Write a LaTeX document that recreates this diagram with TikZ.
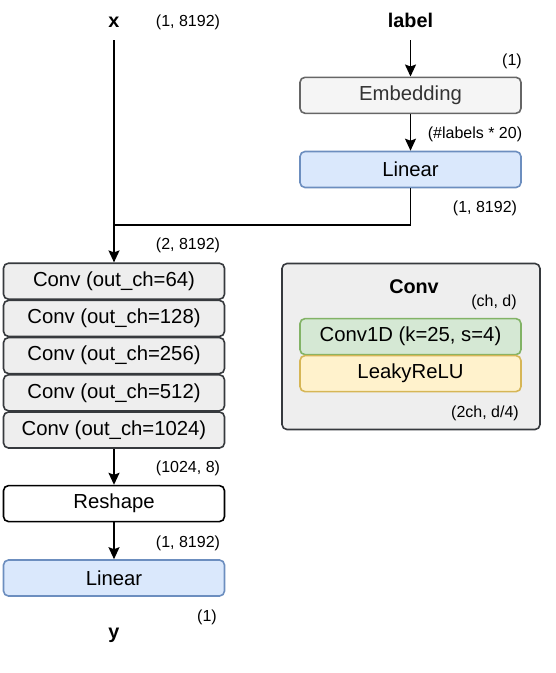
\documentclass[tikz,border=0pt]{standalone}
\usepackage{fontspec}
\setmainfont{Liberation Sans}
\usetikzlibrary{arrows.meta}
%Cores
\definecolor{cinzaborda}{HTML}{36393D}
\definecolor{cinzafundo}{HTML}{EEEEEE}
\definecolor{embfundo}{HTML}{F5F5F5}
\definecolor{embborda}{HTML}{666666}
\definecolor{embtexto}{HTML}{333333}
\definecolor{azulfundo}{HTML}{DAE8FC}
\definecolor{azulborda}{HTML}{6C8EBF}
\definecolor{verdefundo}{HTML}{D5E8D4}
\definecolor{verdeborda}{HTML}{82B366}
\definecolor{amarelofundo}{HTML}{FFF2CC}
\definecolor{amareloborda}{HTML}{D6B656}
%Estilos
\tikzset{
  caixa/.style={draw, rounded corners=5pt, line width=1.6pt, minimum width=221pt,
    minimum height=36pt, inner sep=0pt, font=\fontsize{20.3}{24}\selectfont},
  conv/.style={caixa, fill=cinzafundo, draw=cinzaborda},
  linear/.style={caixa, fill=azulfundo, draw=azulborda},
  forma/.style={font=\fontsize{16}{19}\selectfont, inner sep=1pt},
  titulo/.style={font=\fontsize{19.8}{23}\selectfont\bfseries, inner sep=2pt, anchor=base},
  seta/.style={-{Stealth[length=12pt,width=11pt,inset=2pt]}, line width=1.6pt},
  linha/.style={line width=1.6pt}
}
\begin{document}
\begin{tikzpicture}[x=1pt,y=-1pt] %Escala em pixels
	\useasboundingbox (0,0) rectangle (556,673);
		%Entradas
	\node[titulo] (x) at (114,27.3) {x};
	\node[forma] (fx) at (188,22) {(1, 8192)};
	\node[titulo] (label) at (410.5,27.3) {label};
	\node[forma] (f1) at (512,61) {(1)};
		%Ramo do rotulo
	\node[caixa, fill=embfundo, draw=embborda, text=embtexto] (emb) at (410.5,95.3) {Embedding};
	\node[forma] (femb) at (475,134) {(\#labels * 20)};
	\node[linear] (lin1) at (410.5,169.5) {Linear};
	\node[forma] (flin1) at (485,208) {(1, 8192)};
	\coordinate (junta) at (114,225);
	\node[forma] (fjunta) at (188,245) {(2, 8192)};
		%Pilha de convolucoes
	\node[conv] (conv64) at (114,281.2) {Conv (out\_ch=64)};
	\node[conv] (conv128) at (114,318.4) {Conv (out\_ch=128)};
	\node[conv] (conv256) at (114,355.6) {Conv (out\_ch=256)};
	\node[conv] (conv512) at (114,392.8) {Conv (out\_ch=512)};
	\node[conv] (conv1024) at (114,430) {Conv (out\_ch=1024)};
	\node[forma] (fconv) at (188,468) {(1024, 8)};
		%Saida
	\node[caixa, fill=white, draw=black] (reshape) at (114,503.6) {Reshape};
	\node[forma] (freshape) at (188,543) {(1, 8192)};
	\node[linear] (lin2) at (114,578) {Linear};
	\node[forma] (fy) at (207,617) {(1)};
	\node[titulo] (y) at (114,638) {y};
		%Legenda do bloco Conv
	\node[draw=cinzaborda, fill=cinzafundo, line width=1.6pt, rounded corners=5pt,
	  minimum width=258pt, minimum height=166pt, inner sep=0pt] (painel) at (411,346.5) {};
	\node[titulo] (tconv) at (414,293) {Conv};
	\node[forma] (fch) at (494,302) {(ch, d)};
	\node[caixa, fill=verdefundo, draw=verdeborda] (conv1d) at (410.5,336.6) {Conv1D (k=25, s=4)};
	\node[caixa, fill=amarelofundo, draw=amareloborda] (leaky) at (410.5,373.6) {LeakyReLU};
	\node[forma] (f2ch) at (485,413) {(2ch, d/4)};
		%Conexoes
	\draw[seta, shorten <=10.7pt] (x.south) -- (conv64.north);
	\draw[seta, shorten <=10.7pt] (label.south) -- (emb.north);
	\draw[seta] (emb.south) -- (lin1.north);
	\draw[linha] (lin1.south) |- (junta);
	\draw[seta] (conv1024.south) -- (reshape.north);
	\draw[seta] (reshape.south) -- (lin2.north);
\end{tikzpicture}
\end{document}
